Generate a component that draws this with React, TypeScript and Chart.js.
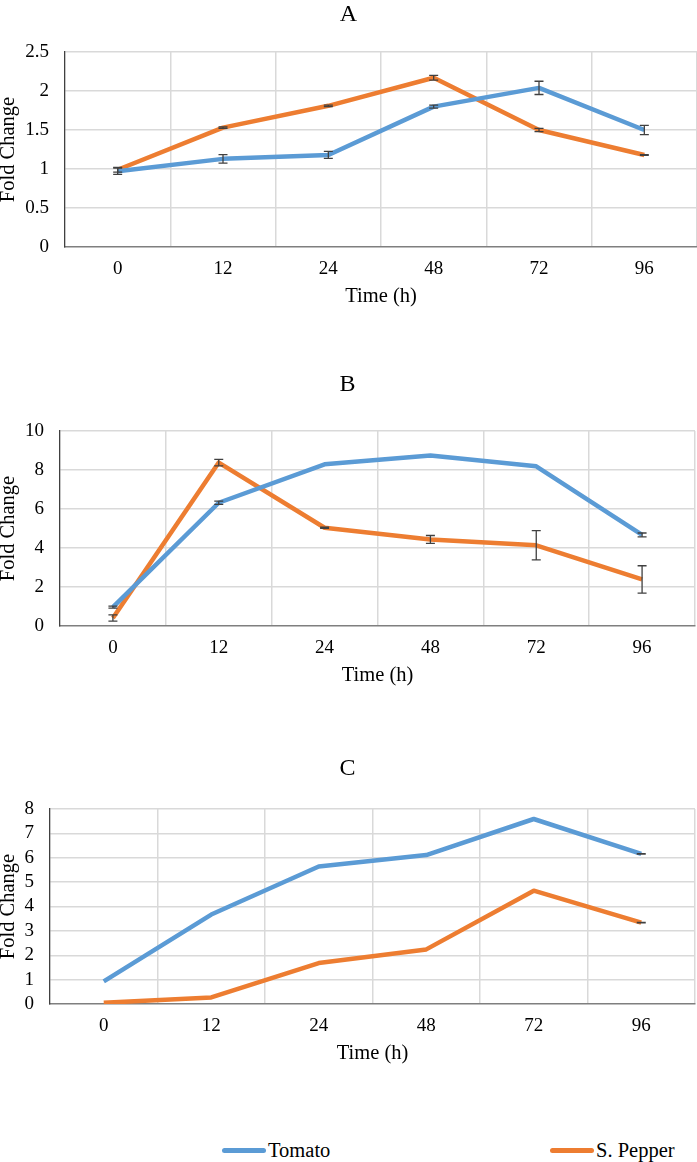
import React, { useEffect, useRef } from "react";
import { Chart, registerables } from "chart.js";

Chart.register(...registerables);

const categories = ["0", "12", "24", "48", "72", "96"];

const tomatoA = [0.97, 1.13, 1.18, 1.8, 2.04, 1.5];
const tomatoAErr = [0.04, 0.055, 0.045, 0.02, 0.085, 0.06];
const pepperA = [0.99, 1.53, 1.81, 2.17, 1.5, 1.18];
const pepperAErr = [0.03, 0.01, 0.01, 0.03, 0.02, 0.005];

const tomatoB = [0.97, 6.32, 8.29, 8.74, 8.19, 4.67];
const tomatoBErr = [0.05, 0.08, 0, 0, 0, 0.1];
const pepperB = [0.41, 8.38, 5.04, 4.44, 4.14, 2.39];
const pepperBErr = [0.16, 0.17, 0.03, 0.2, 0.75, 0.7];

const tomatoC = [0.93, 3.67, 5.64, 6.11, 7.59, 6.16];
const tomatoCErr = [0, 0, 0, 0, 0, 0.01];
const pepperC = [0.05, 0.27, 1.68, 2.24, 4.65, 3.34];
const pepperCErr = [0, 0, 0, 0, 0, 0.01];

const TOMATO_COLOR = "#5B9BD5";
const PEPPER_COLOR = "#ED7D31";
const FONT = "'Liberation Serif', 'Times New Roman', serif";

const errorBarPlugin = {
  id: "errorBars",
  afterDatasetsDraw(chart: any) {
    const ctx = chart.ctx;
    const yScale = chart.scales.y;
    chart.data.datasets.forEach((ds: any, i: number) => {
      const errs = ds.errors;
      if (!errs) return;
      const meta = chart.getDatasetMeta(i);
      ctx.save();
      ctx.strokeStyle = "#404040";
      ctx.lineWidth = 1.3;
      meta.data.forEach((pt: any, j: number) => {
        const v = ds.data[j];
        const e = errs[j];
        if (!e) return;
        const x = pt.x;
        const yt = yScale.getPixelForValue(v + e);
        const yb = yScale.getPixelForValue(v - e);
        ctx.beginPath();
        ctx.moveTo(x, yt);
        ctx.lineTo(x, yb);
        ctx.moveTo(x - 4.5, yt);
        ctx.lineTo(x + 4.5, yt);
        ctx.moveTo(x - 4.5, yb);
        ctx.lineTo(x + 4.5, yb);
        ctx.stroke();
      });
      ctx.restore();
    });
  },
};

type PanelProps = {
  title: string;
  top: number;
  height: number;
  plotTop: number;
  plotBottom: number;
  plotLeft: number;
  plotRight: number;
  titlePadTop: number;
  yMax: number;
  yStep: number;
  tomato: number[];
  tomatoErr: number[];
  pepper: number[];
  pepperErr: number[];
};

function Panel(p: PanelProps) {
  const ref = useRef<HTMLCanvasElement | null>(null);
  useEffect(() => {
    if (!ref.current) return;
    const W = 697;
    const xAxisH = p.height - p.plotBottom;
    const chart = new Chart(ref.current, {
      type: "line",
      data: {
        labels: categories,
        datasets: [
          {
            label: "Tomato",
            data: p.tomato,
            errors: p.tomatoErr,
            borderColor: TOMATO_COLOR,
            backgroundColor: TOMATO_COLOR,
            borderWidth: 4.5,
            pointRadius: 0,
            tension: 0,
            borderJoinStyle: "round",
          } as any,
          {
            label: "S. Pepper",
            data: p.pepper,
            errors: p.pepperErr,
            borderColor: PEPPER_COLOR,
            backgroundColor: PEPPER_COLOR,
            borderWidth: 4.5,
            pointRadius: 0,
            tension: 0,
            borderJoinStyle: "round",
          } as any,
        ],
      },
      options: {
        responsive: false,
        animation: false,
        devicePixelRatio: 1,
        layout: { padding: { left: 0, right: W - p.plotRight, top: 0, bottom: 0 } },
        plugins: {
          legend: { display: false },
          tooltip: { enabled: false },
          title: {
            display: true,
            text: p.title,
            color: "#000",
            font: { family: FONT, size: 24, weight: "normal" },
            padding: { top: p.titlePadTop, bottom: p.plotTop - 28.8 - p.titlePadTop },
          },
        },
        scales: {
          x: {
            offset: true,
            grid: {
              offset: true,
              drawTicks: false,
              color: (c: any) => (c.index === 0 ? "rgba(0,0,0,0)" : "#D9D9D9"),
              lineWidth: 1.5,
            },
            border: { display: true, color: "#7F7F7F", width: 1.5 },
            ticks: {
              padding: 11,
              color: "#000",
              font: { family: FONT, size: 19 },
            },
            title: {
              display: true,
              text: "Time (h)",
              color: "#000",
              font: { family: FONT, size: 20.5 },
              padding: { top: 0, bottom: xAxisH - 50 - 12.3 },
            },
            afterFit: (s: any) => {
              s.height = xAxisH;
            },
          },
          y: {
            min: 0,
            max: p.yMax,
            grid: {
              drawTicks: false,
              color: (c: any) => (c.index === 0 ? "rgba(0,0,0,0)" : "#D9D9D9"),
              lineWidth: 1.5,
            },
            border: { display: true, color: "#404040", width: 1.3 },
            ticks: {
              stepSize: p.yStep,
              autoSkip: false,
              padding: 16,
              color: "#000",
              font: { family: FONT, size: 19 },
              callback: (v: any) => String(Number(Number(v).toFixed(2))),
            },
            title: {
              display: true,
              text: "Fold Change",
              color: "#000",
              font: { family: FONT, size: 20.5 },
              padding: { top: -4, bottom: 0 },
            },
            afterFit: (s: any) => {
              s.width = p.plotLeft;
            },
          },
        },
      } as any,
      plugins: [errorBarPlugin],
    });
    return () => chart.destroy();
  }, []);
  return (
    <canvas
      ref={ref}
      width={697}
      height={p.height}
      style={{ position: "absolute", left: 0, top: p.top, width: 697, height: p.height }}
    />
  );
}

function LegendItem({ left, color, label }: { left: number; color: string; label: string }) {
  return (
    <div style={{ position: "absolute", left, top: 1136, height: 28, display: "flex", alignItems: "center" }}>
      <div style={{ width: 44, height: 5, borderRadius: 3, background: color }} />
      <span style={{ fontFamily: FONT, fontSize: 20.5, color: "#000", marginLeft: 2, lineHeight: "28px" }}>{label}</span>
    </div>
  );
}

export default function App() {
  return (
    <div style={{ position: "absolute", left: 0, top: 0, width: 697, height: 1162, background: "#fff", overflow: "hidden" }}>
      <Panel
        title="A"
        top={0}
        height={310}
        plotTop={52}
        plotBottom={247}
        plotLeft={65}
        plotRight={697}
        titlePadTop={0}
        yMax={2.5}
        yStep={0.5}
        tomato={tomatoA}
        tomatoErr={tomatoAErr}
        pepper={pepperA}
        pepperErr={pepperAErr}
      />
      <Panel
        title="B"
        top={370}
        height={330}
        plotTop={61}
        plotBottom={256}
        plotLeft={60}
        plotRight={695}
        titlePadTop={0}
        yMax={10}
        yStep={2}
        tomato={tomatoB}
        tomatoErr={tomatoBErr}
        pepper={pepperB}
        pepperErr={pepperBErr}
      />
      <Panel
        title="C"
        top={754}
        height={320}
        plotTop={55}
        plotBottom={250}
        plotLeft={50}
        plotRight={695}
        titlePadTop={0}
        yMax={8}
        yStep={1}
        tomato={tomatoC}
        tomatoErr={tomatoCErr}
        pepper={pepperC}
        pepperErr={pepperCErr}
      />
      <LegendItem left={222} color={TOMATO_COLOR} label="Tomato" />
      <LegendItem left={550} color={PEPPER_COLOR} label="S. Pepper" />
    </div>
  );
}
